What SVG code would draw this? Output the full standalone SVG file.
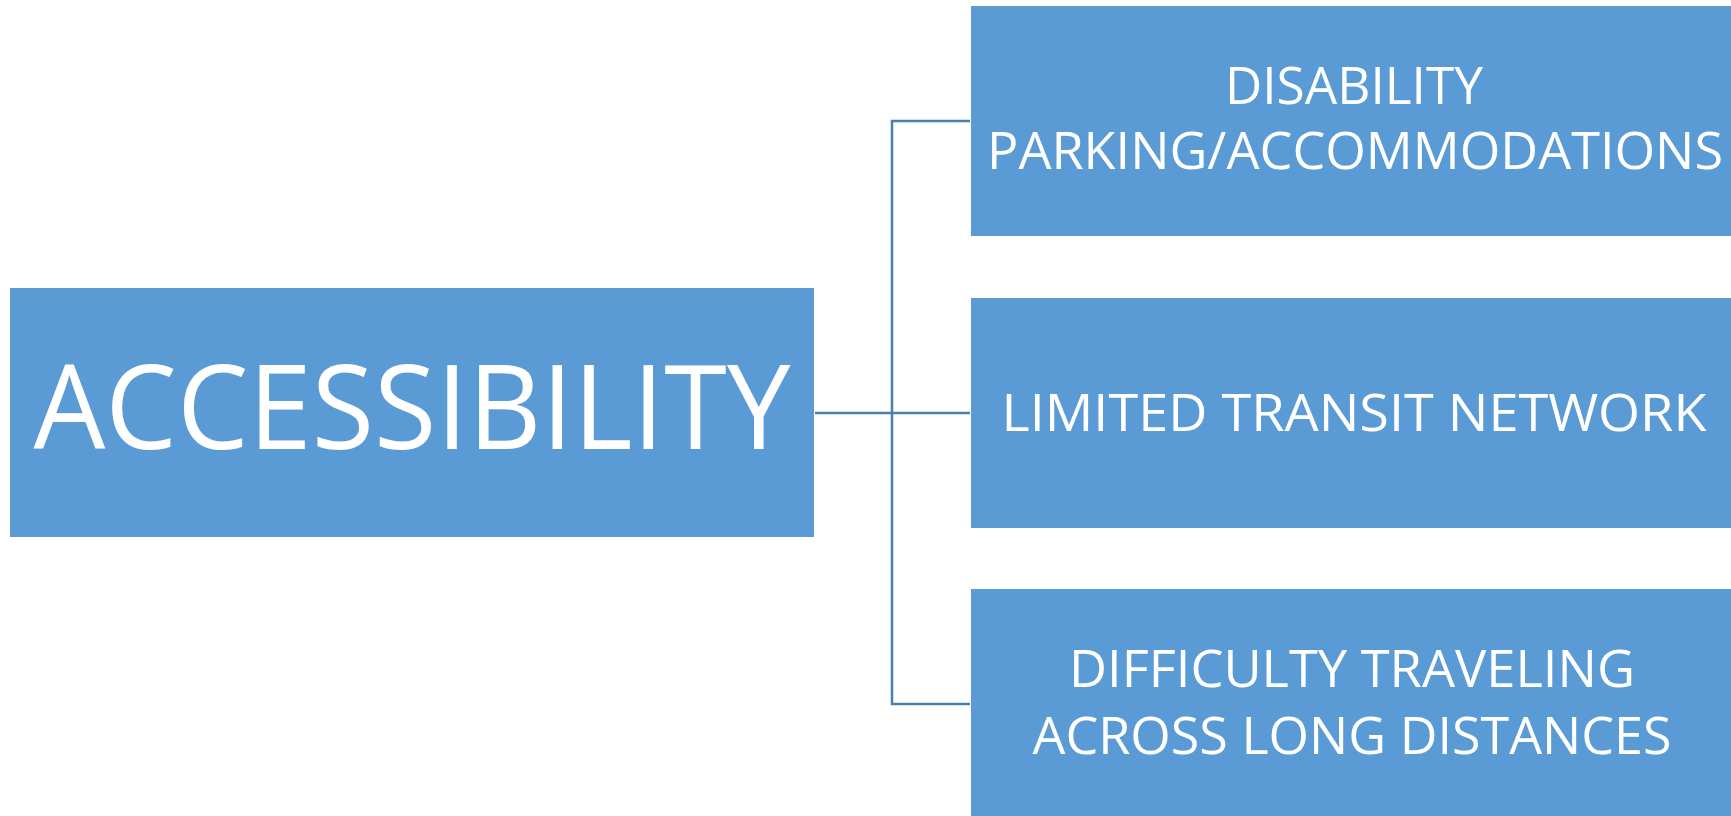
<svg xmlns="http://www.w3.org/2000/svg" width="1731" height="816" viewBox="0 0 1731 816">
<style>
.box{fill:#5B9BD5;}
.t{fill:#ffffff;font-family:"Open Sans","Liberation Sans",sans-serif;text-anchor:middle;}
.big{font-size:118px;}
.sm{font-size:52px;}
.conn{stroke:#4A7EB3;stroke-width:2.5;fill:none;}
</style>
<rect width="1731" height="816" fill="#ffffff"/>
<g id="connectors">
<path class="conn" d="M815 413 H970"/>
<path class="conn" d="M970 121 H892 V704 H970"/>
</g>
<g id="accessibility">
<rect class="box" x="10" y="288" width="804" height="249"/>
<text class="t big" x="412" y="449" textLength="757" lengthAdjust="spacingAndGlyphs">ACCESSIBILITY</text>
</g>
<g id="disability">
<rect class="box" x="971" y="6" width="760" height="230"/>
<text class="t sm" x="1354" y="104" textLength="258" lengthAdjust="spacingAndGlyphs">DISABILITY</text>
<text class="t sm" x="1355" y="169" textLength="736" lengthAdjust="spacingAndGlyphs">PARKING/ACCOMMODATIONS</text>
</g>
<g id="transit">
<rect class="box" x="971" y="298" width="760" height="230"/>
<text class="t sm" x="1354" y="431" textLength="705" lengthAdjust="spacingAndGlyphs">LIMITED TRANSIT NETWORK</text>
</g>
<g id="distances">
<rect class="box" x="971" y="589" width="760" height="230"/>
<text class="t sm" x="1352" y="687" textLength="566" lengthAdjust="spacingAndGlyphs">DIFFICULTY TRAVELING</text>
<text class="t sm" x="1352" y="754" textLength="639" lengthAdjust="spacingAndGlyphs">ACROSS LONG DISTANCES</text>
</g>
</svg>
